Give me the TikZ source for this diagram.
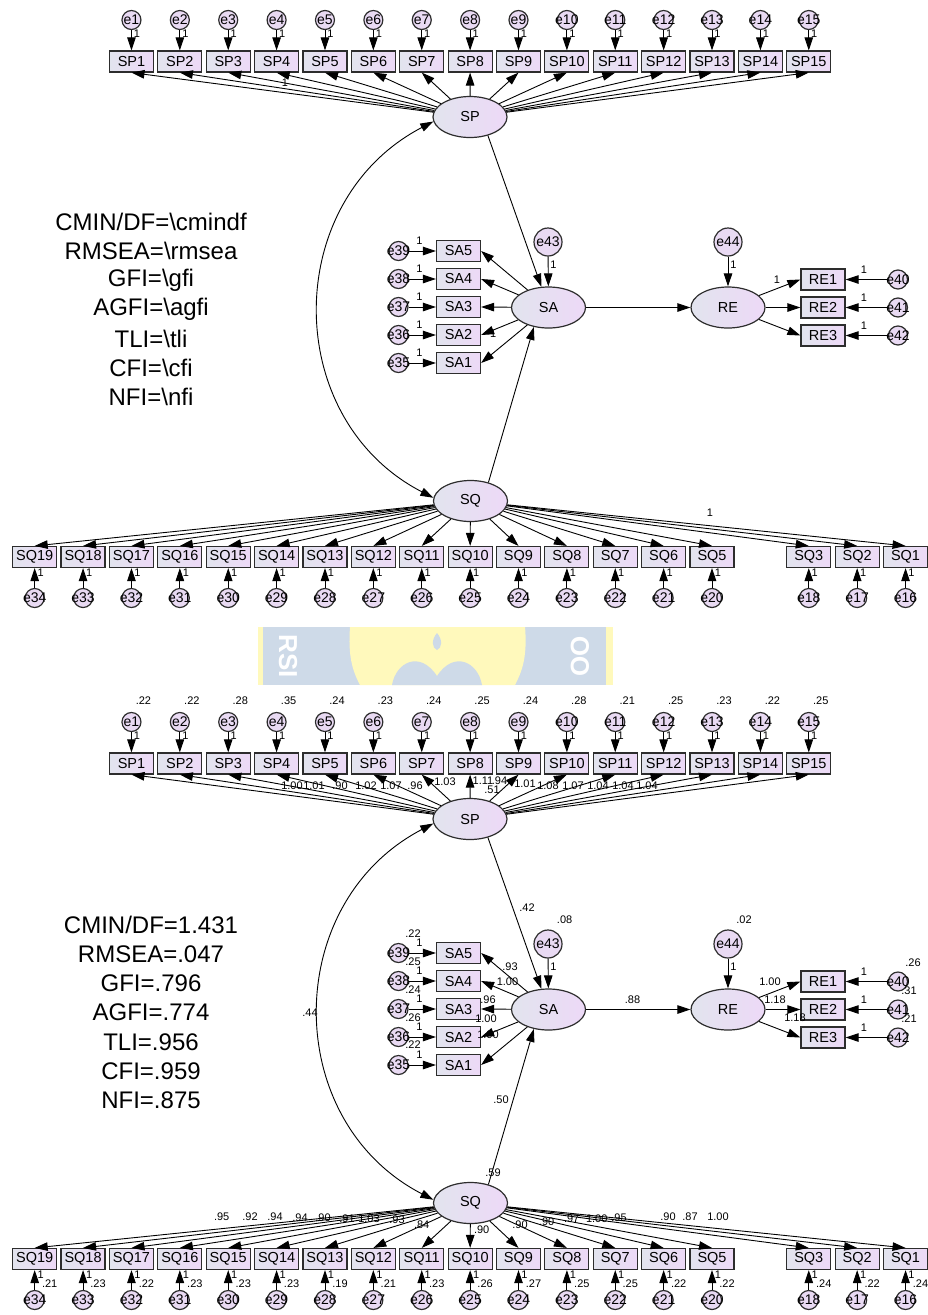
\documentclass[tikz,border=0pt]{standalone}
\usepackage{fontspec}
\setmainfont{Liberation Sans}
\usetikzlibrary{arrows.meta,shapes.geometric,calc}
\definecolor{lbox}{RGB}{226,228,238}
\definecolor{rbox}{RGB}{237,217,247}
\definecolor{cfill}{RGB}{233,218,243}
\definecolor{edgec}{RGB}{45,45,45}
\definecolor{wmblue}{RGB}{206,218,232}
\definecolor{wmyellow}{RGB}{255,249,188}
\tikzset{
  obs/.style={draw=edgec, line width=1.2pt, left color=lbox, right color=rbox,
    minimum width=44pt, minimum height=21pt, inner sep=0pt,
    font=\fontsize{14.5}{15}\selectfont},
  lat/.style={ellipse, draw=edgec, line width=1.2pt, left color=lbox, right color=rbox,
    minimum width=74pt, minimum height=41pt, inner sep=0pt,
    font=\fontsize{14.5}{15}\selectfont},
  err/.style={circle, draw=edgec, line width=1.2pt, fill=cfill, minimum size=19pt,
    inner sep=0pt, label={[font=\fontsize{14}{15}\selectfont, inner sep=0pt]center:#1}},
  bigerr/.style={err={#1}, minimum size=28pt},
  arr/.style={line width=0.9pt, -{Triangle[length=13pt,width=8.5pt]}},
  dbl/.style={line width=0.9pt, {Triangle[length=13pt,width=8.5pt]}-{Triangle[length=13pt,width=8.5pt]}},
  lbl/.style={font=\fontsize{11}{12}\selectfont, inner sep=0pt},
  stat/.style={font=\fontsize{24}{28}\selectfont, inner sep=0pt},
}
\newcommand{\semmodel}{%
  \node[lat] (SP) at (470,117) {SP};
  \node[lat] (SQ) at (470.5,501) {SQ};
  \node[lat] (SA) at (548.5,307.5) {SA};
  \node[lat] (RE) at (728,307.5) {RE};
  \node[bigerr={e43}] (e43) at (548,242) {};
  \node[bigerr={e44}] (e44) at (728,242) {};
  \foreach \i in {1,...,15}{%
    \pgfmathsetmacro{\xx}{34.7+48.38*(\i+1)}
    \node[obs] (SP\i) at (\xx,61.5) {SP\i};
    \node[err={e\i}] (e\i) at (\xx,20) {};
    \draw[arr] (e\i) -- (SP\i);
    \draw[arr] (SP) -- (SP\i.south);
    \node[lbl] (osp\i) at (\xx+5.5,33.5) {1};
  }
  \foreach \k in {1,2,3,5,6,7,8,9,10,11,12,13,14,15,16,17,18,19}{%
    \pgfmathsetmacro{\xx}{34.7+48.38*(19-\k)}
    \pgfmathtruncatemacro{\en}{15+\k}
    \node[obs] (SQ\k) at (\xx,557) {SQ\k};
    \node[err={e\en}] (e\en) at (\xx,598) {};
    \draw[arr] (e\en) -- (SQ\k);
    \draw[arr] (SQ) -- (SQ\k.north);
    \node[lbl] (osq\k) at (\xx+6,573) {1};
  }
  \foreach \k in {1,...,5}{%
    \pgfmathsetmacro{\yy}{363-28*(\k-1)}
    \pgfmathtruncatemacro{\en}{34+\k}
    \node[obs] (SA\k) at (458.5,\yy) {SA\k};
    \node[err={e\en}] (e\en) at (398.5,\yy) {};
    \draw[arr] (e\en) -- (SA\k);
    \draw[arr] (SA) -- (SA\k.east);
    \node[lbl] (osa\k) at (419.5,\yy-10.5) {1};
  }
  \foreach \k in {1,2,3}{%
    \pgfmathsetmacro{\yy}{279.5+28*(\k-1)}
    \pgfmathtruncatemacro{\en}{39+\k}
    \node[obs] (RE\k) at (823,\yy) {RE\k};
    \node[err={e\en}] (e\en) at (898,\yy) {};
    \draw[arr] (e\en) -- (RE\k);
    \draw[arr] (RE) -- (RE\k.west);
    \node[lbl] (ore\k) at (864,\yy-10) {1};
  }
  \draw[arr] (SA) -- (RE);
  \draw[arr] (e43) -- (SA);
  \draw[arr] (e44) -- (RE);
  \node[lbl] (o43) at (553.5,265) {1};
  \node[lbl] (o44) at (733.5,265) {1};
  \draw[arr] (SP.-46) -- (SA.109);
  \draw[arr] (SQ.46) -- (SA.233);
  \draw[dbl] (SP.187) .. controls (281,201) and (281,419) .. (SQ.175);
}
\begin{document}
\begin{tikzpicture}[x=1pt,y=-1pt]
\useasboundingbox (0,0) rectangle (927,1315);
\fill[white] (0,0) rectangle (927,1315);
% watermark
\fill[wmblue] (258,627) rectangle (613,685);
\fill[wmyellow] (258,627) rectangle (263,685);
\fill[wmyellow] (606,627) rectangle (613,685);
\fill[wmyellow] (350,627) -- (525,627) .. controls (528,660) and (520,675) .. (515,685) -- (360,685) .. controls (352,670) and (348,655) .. cycle;
\fill[wmblue] (437,633) .. controls (431,640) and (432,648) .. (437,650) .. controls (442,648) and (443,640) .. cycle;
\fill[wmblue] (392,685) .. controls (396,662) and (420,650) .. (437,676) .. controls (454,650) and (478,662) .. (482,685) -- cycle;
\node[rotate=-90, text=white, font=\bfseries\fontsize{26}{26}\selectfont] (wm1) at (288,656) {RSI};
\node[rotate=90, text=white, font=\bfseries\fontsize{26}{26}\selectfont] (wm2) at (580,656) {OO};

% top model
\semmodel
\node[lbl] (t1) at (285,83) {1};
\node[lbl] (t2) at (493.3,333.3) {1};
\node[lbl] (t3) at (777,280) {1};
\node[lbl] (t4) at (710,513) {1};
\node[stat] (s1) at (151,222) {CMIN/DF=\textbackslash cmindf};
\node[stat] (s2) at (151,251.2) {RMSEA=\textbackslash rmsea};
\node[stat] (s3) at (151,280.4) {GFI=\textbackslash gfi};
\node[stat] (s4) at (151,309.6) {AGFI=\textbackslash agfi};
\node[stat] (s5) at (151,338.8) {TLI=\textbackslash tli};
\node[stat] (s6) at (151,368) {CFI=\textbackslash cfi};
\node[stat] (s7) at (151,397.2) {NFI=\textbackslash nfi};

% bottom model
\begin{scope}[yshift=-702pt, name prefix=b-]
\semmodel
\end{scope}
\node[stat] (b1) at (151,925) {CMIN/DF=1.431};
\node[stat] (b2) at (151,954.2) {RMSEA=.047};
\node[stat] (b3) at (151,983.4) {GFI=.796};
\node[stat] (b4) at (151,1012.6) {AGFI=.774};
\node[stat] (b5) at (151,1041.8) {TLI=.956};
\node[stat] (b6) at (151,1071) {CFI=.959};
\node[stat] (b7) at (151,1100.2) {NFI=.875};

\foreach \v [count=\i] in {.22,.22,.28,.35,.24,.23,.24,.25,.24,.28,.21,.25,.23,.22,.25}{%
  \pgfmathsetmacro{\xx}{34.7+48.38*(\i+1)+12}
  \node[lbl] (vsp\i) at (\xx,700.7) {\v};
}
\foreach \k/\v in {19/.21,18/.23,17/.22,16/.23,15/.23,14/.23,13/.19,12/.21,11/.23,10/.26,9/.27,8/.25,7/.25,6/.22,5/.22,3/.24,2/.22,1/.24}{%
  \pgfmathsetmacro{\xx}{34.7+48.38*(19-\k)+15}
  \node[lbl] (vsq\k) at (\xx,1284) {\v};
}
\foreach \x/\y/\t [count=\n] in {
  292/786/1.00, 314/786/1.01, 340/786/.90, 366/786/1.02, 391/786/1.07, 415/786/.96, 445/782/1.03,
  483/781/1.11, 499.5/781/.94, 492/789.5/.51, 525/784/1.01, 548/786/1.08, 573/786/1.07, 598/786/1.04, 623/786/1.04, 647/786/1.04,
  527/907.3/.42, 564.6/920/.08, 744/919.3/.02,
  413/933.3/.22, 413/961.7/.25, 413/990/.24, 413/1017.3/.26, 413/1045/.22,
  510/966.7/.93, 507.5/981.7/1.00, 488/999.3/.96, 486/1018.3/1.00, 488/1035/1.00,
  632.5/1000/.88, 770/981.7/1.00, 775/999.3/1.18, 795/1017.3/1.18,
  913/962.7/.26, 909/990.7/.31, 909/1018.3/.21,
  310/1013/.44, 501/1100/.50, 493/1173/.59,
  221.7/1216.7/.95, 250/1216.7/.92, 275/1216.7/.94, 300/1218/.94, 323/1218/.90, 347/1219/.91, 369/1219/1.03, 397/1220/.93, 421.7/1225/.84,
  481.7/1230/.90, 520/1225/.90, 546.7/1221.7/.90, 571.7/1219/.97, 596.7/1219/1.00, 619/1218/.95, 668/1217/.90, 690/1217/.87, 718/1217/1.00}{%
  \node[lbl] (bl\n) at (\x,\y) {\t};
}
\end{tikzpicture}
\end{document}
